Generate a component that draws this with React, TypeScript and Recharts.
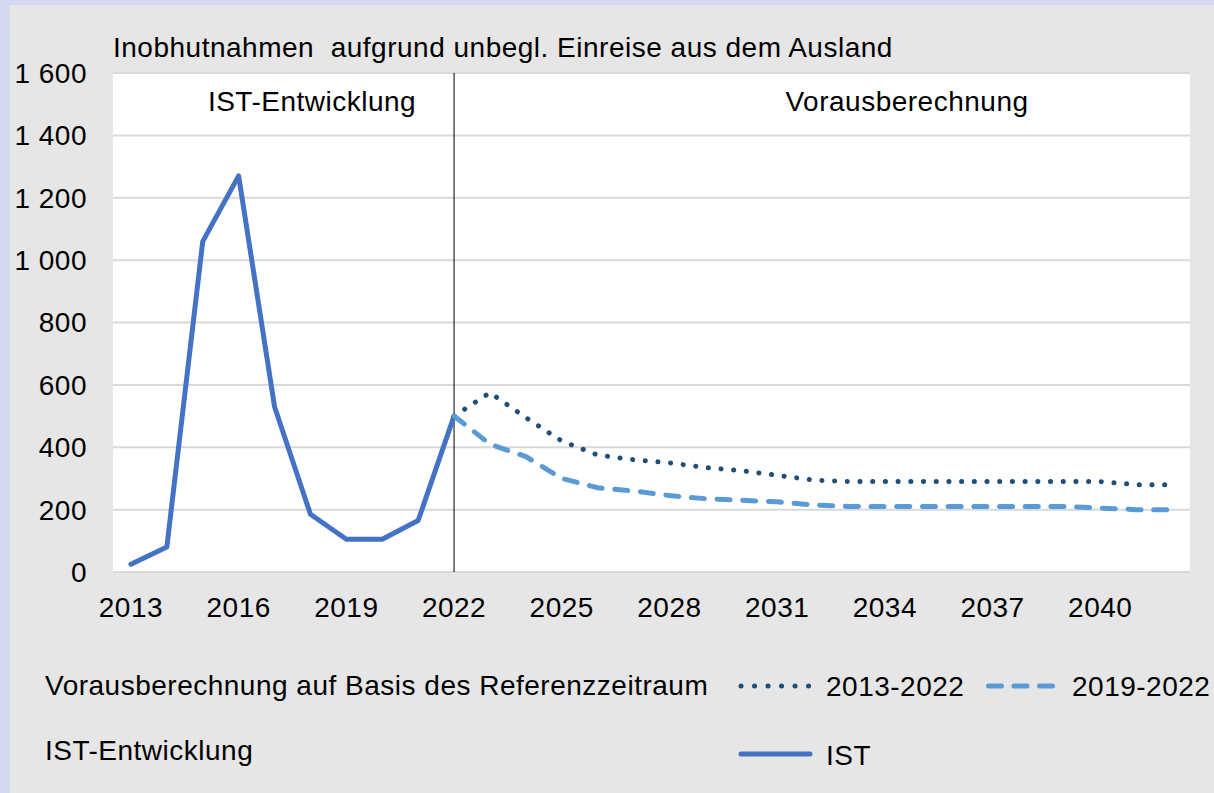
import React from 'react';
import { LineChart, Line, XAxis, YAxis, CartesianGrid, ReferenceLine } from 'recharts';

// years on the x axis
const years = [
  2013, 2014, 2015, 2016, 2017, 2018, 2019, 2020, 2021, 2022,
  2023, 2024, 2025, 2026, 2027, 2028, 2029, 2030, 2031, 2032,
  2033, 2034, 2035, 2036, 2037, 2038, 2039, 2040, 2041, 2042,
];

// IST values 2013-2022
const istValues = [25, 80, 1060, 1270, 530, 185, 105, 105, 165, 500];

// projections 2022-2042
const proj2013to2022 = [
  500, 575, 495, 420, 375, 360, 350, 335, 325, 310, 295,
  290, 290, 290, 290, 290, 290, 290, 290, 280, 280,
];
const proj2019to2022 = [
  500, 410, 370, 300, 270, 260, 245, 235, 230, 225, 215,
  210, 210, 210, 210, 210, 210, 210, 205, 200, 200,
];

const xTicks = [2013, 2016, 2019, 2022, 2025, 2028, 2031, 2034, 2037, 2040];
const yTicks = [0, 200, 400, 600, 800, 1000, 1200, 1400, 1600];

const projStart = years.indexOf(2022);

const data = years.map((year, i) => ({
  year,
  ist: i < istValues.length ? istValues[i] : null,
  p1: i >= projStart ? proj2013to2022[i - projStart] : null,
  p2: i >= projStart ? proj2019to2022[i - projStart] : null,
}));

const FONT = '"Liberation Sans", Arial, sans-serif';
const FS = 28;
const LS = 0.5;
const IST_COLOR = '#4472c4';
const DOT_COLOR = '#1f4e79';
const DASH_COLOR = '#5b9bd5';

const fmt = (v: number) =>
  v >= 1000 ? `${Math.floor(v / 1000)} ${String(v % 1000).padStart(3, '0')}` : String(v);

const tickStyle = { fill: '#000', fontSize: FS, fontFamily: FONT, letterSpacing: LS };

const App: React.FC = () => {
  return (
    <div
      style={{
        position: 'absolute',
        left: 0,
        top: 0,
        width: 1214,
        height: 793,
        background: '#d3d9ef',
        fontFamily: FONT,
      }}
    >
      <div
        style={{ position: 'absolute', left: 10, top: 5, width: 1204, height: 788, background: '#e6e6e6' }}
      />
      <div style={{ position: 'absolute', left: 0, top: 0 }}>
        <LineChart
          width={1214}
          height={793}
          data={data}
          margin={{ top: 73, right: 24, left: 13, bottom: 181 }}
        >
          <CartesianGrid vertical={false} stroke="#d9d9d9" strokeWidth={2} fill="#ffffff" />
          <XAxis
            dataKey="year"
            type="number"
            domain={[2012.5, 2042.5]}
            ticks={xTicks}
            tickLine={false}
            axisLine={false}
            tickSize={0}
            tickMargin={25}
            height={40}
            interval={0}
            tick={tickStyle}
          />
          <YAxis
            domain={[0, 1600]}
            ticks={yTicks}
            tickLine={false}
            axisLine={false}
            tickSize={0}
            tickMargin={26}
            width={100}
            tickFormatter={fmt}
            tick={tickStyle}
          />
          <ReferenceLine x={2022} stroke="#000" strokeWidth={1} />
          <Line
            dataKey="ist"
            stroke={IST_COLOR}
            strokeWidth={5}
            strokeLinejoin="round"
            strokeLinecap="round"
            dot={false}
            connectNulls={false}
            isAnimationActive={false}
          />
          <Line
            dataKey="p1"
            stroke={DOT_COLOR}
            strokeWidth={5}
            strokeDasharray="0.1 12.6"
            strokeLinecap="round"
            dot={false}
            isAnimationActive={false}
          />
          <Line
            dataKey="p2"
            stroke={DASH_COLOR}
            strokeWidth={5}
            strokeDasharray="13 12.7"
            strokeLinecap="round"
            dot={false}
            isAnimationActive={false}
          />
        </LineChart>
      </div>
      <svg
        width={1214}
        height={793}
        style={{ position: 'absolute', left: 0, top: 0, pointerEvents: 'none', letterSpacing: LS }}
        fontFamily={FONT}
        fontSize={FS}
      >
        <text x={113} y={57} fill="#000" style={{ whiteSpace: 'pre' }}>
          {'Inobhutnahmen  aufgrund unbegl. Einreise aus dem Ausland'}
        </text>
        <text x={312} y={111} fill="#000" textAnchor="middle">IST-Entwicklung</text>
        <text x={907} y={111} fill="#000" textAnchor="middle">Vorausberechnung</text>

        {/* legend */}
        <text x={45} y={695} fill="#000">Vorausberechnung auf Basis des Referenzzeitraum</text>
        <line x1={741} y1={686} x2={809} y2={686} stroke={DOT_COLOR} strokeWidth={5} strokeDasharray="0.1 13.4" strokeLinecap="round" />
        <text x={826} y={696} fill="#000">2013-2022</text>
        <line x1={988.5} y1={686} x2={1052.5} y2={686} stroke={DASH_COLOR} strokeWidth={5} strokeDasharray="13 12.5" strokeLinecap="round" />
        <text x={1072} y={696} fill="#000">2019-2022</text>

        <text x={45} y={760} fill="#000">IST-Entwicklung</text>
        <line x1={741} y1={754} x2={810} y2={754} stroke={IST_COLOR} strokeWidth={5} strokeLinecap="round" />
        <text x={826} y={765} fill="#000">IST</text>
      </svg>
    </div>
  );
};

export default App;
